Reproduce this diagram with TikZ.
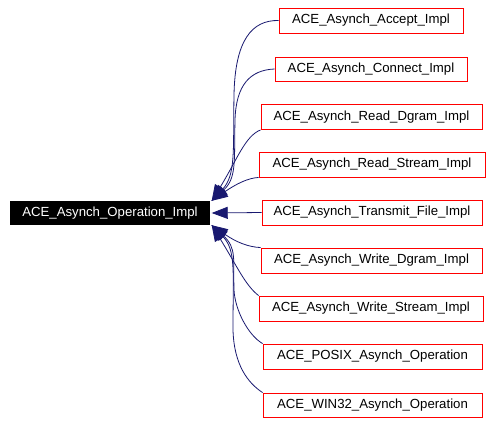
\documentclass[tikz,border=0pt]{standalone}
\usepackage{fontspec}
\setmainfont{Liberation Sans}
\usetikzlibrary{arrows.meta}
\definecolor{edgeblue}{HTML}{191970}
\begin{document}
\begin{tikzpicture}[x=1pt,y=-1pt,
  lbl/.style={font=\fontsize{13.2}{15}\selectfont},
  cls/.style={lbl, draw=red, line width=0.9pt, minimum height=25pt, inner sep=0pt, text=black, fill=white},
  basecls/.style={lbl, fill=black, text=white, minimum width=200pt, minimum height=24pt, inner sep=0pt},
  inh/.style={draw=edgeblue, line width=0.8pt, -{Triangle[length=16pt,width=12pt]}}]
\useasboundingbox (0,0) rectangle (492,423);
\fill[white] (0,0) rectangle (492,423);

\node[basecls] (main) at (110,213) {ACE\_Asynch\_Operation\_Impl};

\node[cls, minimum width=184pt] (acc) at (371,20.5) {ACE\_Asynch\_Accept\_Impl};
\node[cls, minimum width=192pt, minimum height=24pt] (con) at (371,69) {ACE\_Asynch\_Connect\_Impl};
\node[cls, minimum width=221pt] (rdg) at (371.5,117) {ACE\_Asynch\_Read\_Dgram\_Impl};
\node[cls, minimum width=226pt] (rs) at (372,164.5) {ACE\_Asynch\_Read\_Stream\_Impl};
\node[cls, minimum width=220pt] (tf) at (372,212.5) {ACE\_Asynch\_Transmit\_File\_Impl};
\node[cls, minimum width=221pt] (wd) at (371.5,260.5) {ACE\_Asynch\_Write\_Dgram\_Impl};
\node[cls, minimum width=224pt] (ws) at (371,308.5) {ACE\_Asynch\_Write\_Stream\_Impl};
\node[cls, minimum width=219pt] (px) at (372.5,356.5) {ACE\_POSIX\_Asynch\_Operation};
\node[cls, minimum width=219pt, minimum height=24pt] (w32) at (372.5,405) {ACE\_WIN32\_Asynch\_Operation};

\coordinate (tu) at ([xshift=1.5pt]main.north east);
\coordinate (tm) at ([xshift=1.5pt]main.east);
\coordinate (tl) at ([xshift=1.5pt]main.south east);

\draw[inh] (acc.west) .. controls (252,20) and (235,40) .. (234,95) .. controls (233,150) and (236,175) .. (tu);
\draw[inh] (con.west) .. controls (250,70) and (236,85) .. (235,120) .. controls (234,160) and (237,178) .. (tu);
\draw[inh] (rdg.south west) .. controls (245,136) and (237,160) .. (tu);
\draw[inh] (rs.south west) .. controls (248,178) and (236,184) .. (tu);
\draw[inh] (tf.west) -- (tm);
\draw[inh] (wd.north west) .. controls (248,247) and (236,242) .. (tl);
\draw[inh] (ws.north west) .. controls (245,285) and (237,266) .. (tl);
\draw[inh] (px.north west) .. controls (248,335) and (235,310) .. (234,290) .. controls (233,260) and (237,248) .. (tl);
\draw[inh] (w32.north west) .. controls (248,383) and (234,365) .. (233,330) .. controls (233,270) and (236,250) .. (tl);
\end{tikzpicture}
\end{document}
